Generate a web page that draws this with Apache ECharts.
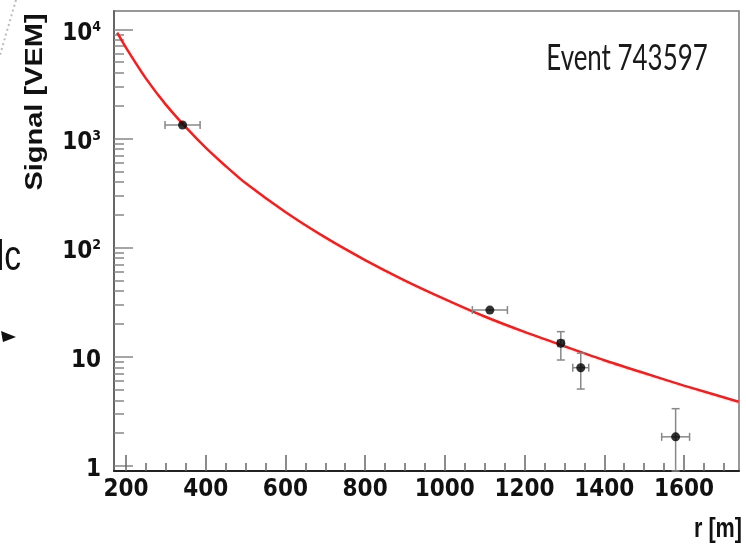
<!DOCTYPE html>
<html><head><meta charset="utf-8">
<script src="https://cdn.jsdelivr.net/npm/echarts@6/dist/echarts.min.js"></script>
<style>html,body{margin:0;padding:0;background:#fff}#c{width:746px;height:546px}</style>
</head><body><div id="c"></div>
<script>
// ---- data ----
const xMajorTicks = [200, 400, 600, 800, 1000, 1200, 1400, 1600];
const xMinorTicks = [200, 250, 300, 350, 400, 450, 500, 550, 600, 650, 700, 750, 800, 850, 900, 950,
  1000, 1050, 1100, 1150, 1200, 1250, 1300, 1350, 1400, 1450, 1500, 1550, 1600, 1650, 1700];
const yMajorTicks = [1, 10, 100, 1000, 10000];
const yMinorTicks = [2, 3, 4, 5, 6, 7, 8, 9, 20, 30, 40, 50, 60, 70, 80, 90,
  200, 300, 400, 500, 600, 700, 800, 900, 2000, 3000, 4000, 5000, 6000, 7000, 8000, 9000];

// fitted lateral distribution curve
const curveR = [178, 200, 250, 300, 350, 400, 450, 500, 600, 700, 800, 900, 1000, 1100, 1200, 1300, 1400, 1500, 1600, 1737];
const curveS = [9300, 6800, 3550, 2040, 1270, 825, 560, 390, 212, 124, 77, 50, 33.8, 23.4, 16.9, 12.5, 9.3, 7.1, 5.45, 3.88];

// station signals
const pointR   = [342, 1113, 1291, 1341, 1579];
const pointS   = [1327, 26.8, 13.3, 7.95, 1.85];
const pointRErr = [44, 44, 8, 20, 35];
const pointSLow  = [1260, 23.5, 9.35, 5.07, 0.9];
const pointSHigh = [1400, 30, 17, 10.8, 3.35];

const X_MIN = 170, X_MAX = 1738, Y_MIN = 0.9, Y_MAX = 14700;

// ---- build ----
const NARROW = "'Liberation Sans Narrow','DejaVu Sans Condensed','Liberation Sans',sans-serif";
const curveData = curveR.map((r, i) => [r, curveS[i]]);
const pointData = pointR.map((r, i) => [r, pointS[i]]);
const errData = pointR.map((r, i) => [r, pointS[i], r - pointRErr[i], r + pointRErr[i], pointSLow[i], pointSHigh[i]]);

const chart = echarts.init(document.getElementById('c'), null, {renderer: 'canvas'});
const option = {
  animation: false,
  backgroundColor: '#fff',
  grid: {left: 114, right: 7, top: 11, bottom: 75, show: true, borderColor: '#777', borderWidth: 1.5, backgroundColor: 'transparent'},
  xAxis: [{
    type: 'value', min: X_MIN, max: X_MAX, position: 'bottom',
    axisLine: {show: true, onZero: false, lineStyle: {color: '#222', width: 2}},
    axisTick: {show: true, inside: true, length: 16, customValues: xMajorTicks, lineStyle: {color: '#666', width: 1.5}},
    axisLabel: {show: true, customValues: xMajorTicks, margin: 7, color: '#111',
      formatter: function (v) { return String(v); },
      fontFamily: NARROW, fontWeight: 'bold', fontSize: 24},
    splitLine: {show: false}
  }, {
    type: 'value', min: X_MIN, max: X_MAX, position: 'bottom',
    axisLine: {show: false, onZero: false},
    axisTick: {show: true, inside: true, length: 8, customValues: xMinorTicks, lineStyle: {color: '#666', width: 1.5}},
    axisLabel: {show: false},
    splitLine: {show: false}
  }],
  yAxis: [{
    type: 'log', logBase: 10, min: Y_MIN, max: Y_MAX, position: 'left',
    axisLine: {show: true, onZero: false, lineStyle: {color: '#666', width: 2}},
    axisTick: {show: true, inside: true, length: 19, customValues: yMajorTicks, lineStyle: {color: '#888', width: 1.5}},
    axisLabel: {show: true, customValues: yMajorTicks, margin: 13, color: '#111', padding: [8, 0, 0, 0],
      formatter: function (v) {
        if (v >= 100) return '{b|10}{s|' + Math.round(Math.log10(v)) + '}';
        return '{b|' + v + '}';
      },
      rich: {
        b: {fontFamily: NARROW, fontWeight: 'bold', fontSize: 24, color: '#111', lineHeight: 26},
        s: {fontFamily: NARROW, fontWeight: 'bold', fontSize: 14, color: '#111', verticalAlign: 'top', lineHeight: 14}
      }
    },
    splitLine: {show: false}
  }, {
    type: 'log', logBase: 10, min: Y_MIN, max: Y_MAX, position: 'left',
    axisLine: {show: false, onZero: false},
    axisTick: {show: true, inside: true, length: 10, customValues: yMinorTicks, lineStyle: {color: '#888', width: 1.5}},
    axisLabel: {show: false},
    splitLine: {show: false}
  }],
  series: [{
    name: 'fit', type: 'line', xAxisIndex: 0, yAxisIndex: 0, data: curveData,
    smooth: 0.25, showSymbol: false, symbol: 'none', clip: true,
    lineStyle: {color: '#ff1a1a', width: 2.5}, z: 2
  }, {
    name: 'errors', type: 'custom', xAxisIndex: 0, yAxisIndex: 0, data: errData, z: 3,
    renderItem: function (params, api) {
      const c = api.coord([api.value(0), api.value(1)]);
      const xl = api.coord([api.value(2), api.value(1)])[0];
      const xh = api.coord([api.value(3), api.value(1)])[0];
      const yl = api.coord([api.value(0), api.value(4)])[1];
      const yh = api.coord([api.value(0), api.value(5)])[1];
      const st = {stroke: '#888', lineWidth: 1.5};
      const cap = 4;
      const ch = [];
      if (xh - xl > 12) {
        ch.push({type: 'line', shape: {x1: xl, y1: c[1], x2: xh, y2: c[1]}, style: st});
      }
      ch.push({type: 'line', shape: {x1: xl, y1: c[1] - cap, x2: xl, y2: c[1] + cap}, style: st});
      ch.push({type: 'line', shape: {x1: xh, y1: c[1] - cap, x2: xh, y2: c[1] + cap}, style: st});
      if (yl - yh > 12) {
        ch.push({type: 'line', shape: {x1: c[0], y1: yl, x2: c[0], y2: yh}, style: st});
        ch.push({type: 'line', shape: {x1: c[0] - cap, y1: yl, x2: c[0] + cap, y2: yl}, style: st});
        ch.push({type: 'line', shape: {x1: c[0] - cap, y1: yh, x2: c[0] + cap, y2: yh}, style: st});
      }
      return {type: 'group', children: ch};
    }
  }, {
    name: 'stations', type: 'scatter', xAxisIndex: 0, yAxisIndex: 0, data: pointData,
    symbol: 'circle', symbolSize: 9, itemStyle: {color: '#000'}, z: 4
  }],
  graphic: [{
    type: 'text', x: 36, y: 102, rotation: Math.PI / 2, scaleY: 0.8,
    style: {text: 'Signal [VEM]', font: "bold 29px 'Liberation Sans', sans-serif", fill: '#111', align: 'center', verticalAlign: 'middle'}
  }, {
    type: 'text', x: 627, y: 58, scaleX: 0.72,
    style: {text: 'Event 743597', font: "36px Lato, 'Open Sans', sans-serif", fill: '#1a1a1a', align: 'center', verticalAlign: 'middle'}
  }, {
    type: 'text', x: 742, y: 530, scaleX: 0.8,
    style: {text: 'r [m]', font: "bold 27px 'Liberation Sans', sans-serif", fill: '#111', align: 'right', verticalAlign: 'middle'}
  }, {
    type: 'text', x: 21, y: 258, scaleX: 0.8,
    style: {text: 'lc', font: "42px 'Liberation Sans', sans-serif", fill: '#111', align: 'right', verticalAlign: 'middle'}
  }, {
    type: 'polygon', shape: {points: [[1, 331], [16, 337], [3, 342]]}, style: {fill: '#111'}
  }, {
    type: 'line', shape: {x1: 16, y1: 0, x2: 0, y2: 55}, style: {stroke: '#bbb', lineWidth: 2, lineDash: [2, 3]}
  }]
};
chart.setOption(option);
</script>
</body></html>
